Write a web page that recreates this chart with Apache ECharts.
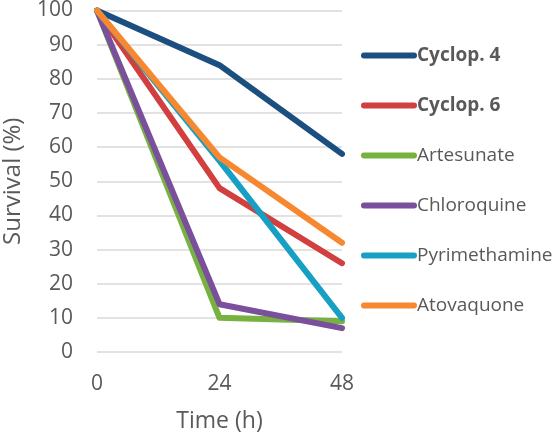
<!DOCTYPE html>
<html><head><meta charset="utf-8">
<script src="https://cdn.jsdelivr.net/npm/echarts@6/dist/echarts.min.js"></script>
<style>html,body{margin:0;padding:0;background:#fff}#c{width:555px;height:438px}</style>
</head><body><div id="c"></div>
<script>
const categories = ['0', '24', '48'];
const seriesNames = ['Cyclop. 4', 'Cyclop. 6', 'Artesunate', 'Chloroquine', 'Pyrimethamine', 'Atovaquone'];
const cyclop4 = [100, 84, 58];
const cyclop6 = [100, 48, 26];
const artesunate = [100, 10, 9];
const chloroquine = [100, 14, 7];
const pyrimethamine = [100, 56, 10];
const atovaquone = [100, 57, 32];
const yTicks = [0, 10, 20, 30, 40, 50, 60, 70, 80, 90, 100];

const values = [cyclop4, cyclop6, artesunate, chloroquine, pyrimethamine, atovaquone];
const colors = ['#1b4f80', '#d13f3f', '#77b13f', '#7a4f9c', '#17a0c4', '#f7882f'];
const boldNames = ['Cyclop. 4', 'Cyclop. 6'];
const font = 'Open Sans';

const chart = echarts.init(document.getElementById('c'), null, {renderer: 'canvas'});
chart.setOption({
  animation: false,
  textStyle: {fontFamily: font},
  grid: {left: 97, right: 213, top: 9, bottom: 86, containLabel: false},
  xAxis: {
    type: 'category', data: categories, boundaryGap: false,
    axisLine: {show: false}, axisTick: {show: false},
    axisLabel: {color: '#595959', fontSize: 21, fontFamily: font, margin: 22},
    name: 'Time (h)', nameLocation: 'middle', nameGap: 58,
    nameTextStyle: {color: '#595959', fontSize: 23, fontFamily: font}
  },
  yAxis: {
    type: 'value', min: 0, max: 100, interval: 10,
    axisLine: {show: false}, axisTick: {show: false},
    splitLine: {lineStyle: {color: '#d9d9d9', width: 1.5}},
    axisLabel: {color: '#595959', fontSize: 21, fontFamily: font, margin: 24,
      formatter: v => yTicks.includes(v) ? String(v) : ''},
    name: 'Survival (%)', nameLocation: 'middle', nameGap: 72, nameRotate: 90,
    nameTextStyle: {color: '#595959', fontSize: 24, fontFamily: font}
  },
  legend: {
    orient: 'vertical', left: 356, top: 41, itemGap: 31,
    itemWidth: 56, itemHeight: 20,
    icon: 'path://M3,7 L53,7 A3,3 0 0 1 53,13 L3,13 A3,3 0 0 1 3,7 Z',
    data: seriesNames,
    formatter: n => boldNames.includes(n) ? '{b|' + n + '}' : '{n|' + n + '}',
    textStyle: {
      color: '#595959', fontSize: 19, fontFamily: font, padding: [0, 0, 0, -5],
      rich: {
        b: {fontWeight: 'bold', fontSize: 19, color: '#595959', fontFamily: font, lineHeight: 20},
        n: {fontSize: 19, color: '#595959', fontFamily: font, lineHeight: 20}
      }
    }
  },
  series: seriesNames.map((n, i) => ({
    name: n, type: 'line', data: values[i],
    symbol: 'none', showSymbol: false,
    lineStyle: {color: colors[i], width: 6, join: 'round', cap: 'round'},
    itemStyle: {color: colors[i]}
  }))
});
</script></body></html>
